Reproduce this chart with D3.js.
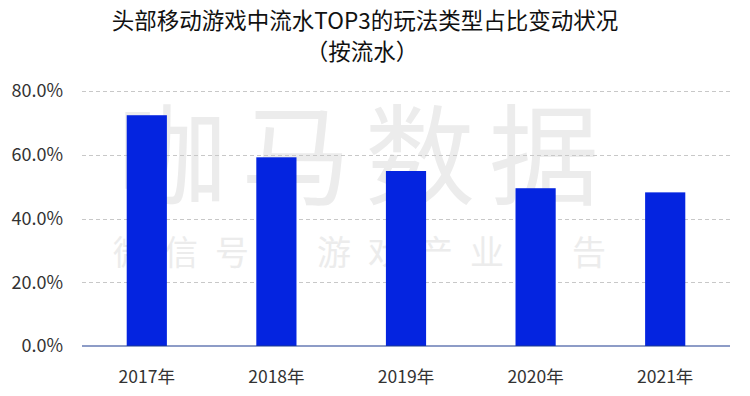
<!DOCTYPE html>
<html>
<head>
<meta charset="utf-8">
<script src="https://cdn.jsdelivr.net/npm/d3@7"></script>
<style>
  body { margin: 0; background: #fff; }
  svg { font-family: "Noto Sans CJK SC", "Noto Sans", sans-serif; }
  .grid line { stroke: #c8c8c8; stroke-dasharray: 4,3; }
  .tick-label { fill: #333; }
</style>
</head>
<body>
<div id="chart"></div>
<script>
// values
const years = ["2017年", "2018年", "2019年", "2020年", "2021年"];
const shares = [72.4, 59.2, 54.9, 49.5, 48.2];
const yTicks = [0, 20, 40, 60, 80];
const titleLines = ["头部移动游戏中流水TOP3的玩法类型占比变动状况", "（按流水）"];

const width = 750, height = 396;
const margin = { top: 91, right: 20, bottom: 50, left: 82 };

const svg = d3.select("#chart").append("svg")
    .attr("width", width)
    .attr("height", height);

const x = d3.scaleBand()
    .domain(years)
    .range([margin.left, width - margin.right])
    .paddingInner(0.69)
    .paddingOuter(0.345);

const y = d3.scaleLinear()
    .domain([0, 80])
    .range([height - margin.bottom, margin.top]);

// --- watermark (behind the bars) ---
const wm = svg.append("g").attr("fill", "#ececec");
wm.append("text")
    .attr("x", 365)
    .attr("y", 158)
    .attr("dy", "0.35em")
    .attr("text-anchor", "middle")
    .attr("font-size", 110)
    .attr("letter-spacing", 14)
    .text("咖马数据");
wm.append("text")
    .attr("x", 368)
    .attr("y", 253)
    .attr("dy", "0.35em")
    .attr("text-anchor", "middle")
    .attr("font-size", 34)
    .attr("letter-spacing", 17)
    .text("微信号：游戏产业报告");

// --- gridlines ---
svg.append("g")
    .attr("class", "grid")
    .selectAll("line")
    .data(yTicks.filter(d => d > 0))
    .join("line")
    .attr("x1", margin.left)
    .attr("x2", width - margin.right)
    .attr("y1", d => Math.round(y(d)) + 0.5)
    .attr("y2", d => Math.round(y(d)) + 0.5);

// --- y tick labels ---
svg.append("g")
    .selectAll("text")
    .data(yTicks)
    .join("text")
    .attr("class", "tick-label")
    .attr("font-size", 18)
    .attr("x", 63)
    .attr("y", d => y(d))
    .attr("dy", "0.35em")
    .attr("text-anchor", "end")
    .text(d => d.toFixed(1) + "%");

// --- bars ---
svg.append("g")
    .selectAll("rect")
    .data(years.map((d, i) => ({ year: d, value: shares[i] })))
    .join("rect")
    .attr("x", d => x(d.year))
    .attr("y", d => y(d.value))
    .attr("width", x.bandwidth())
    .attr("height", d => y(0) - y(d.value))
    .attr("fill", "#0424e0");

// --- baseline ---
svg.append("line")
    .attr("x1", margin.left)
    .attr("x2", width - margin.right)
    .attr("y1", y(0))
    .attr("y2", y(0))
    .attr("stroke", "#1d3a8f")
    .attr("stroke-width", 1.2);

// --- x labels ---
svg.append("g")
    .selectAll("text")
    .data(years)
    .join("text")
    .attr("class", "tick-label")
    .attr("font-size", 17.5)
    .attr("x", d => x(d) + x.bandwidth() / 2)
    .attr("y", 377)
    .attr("dy", "0.35em")
    .attr("text-anchor", "middle")
    .text(d => d);

// --- title ---
svg.append("g")
    .selectAll("text")
    .data(titleLines)
    .join("text")
    .attr("x", (d, i) => i ? 362 : 365)
    .attr("y", (d, i) => 21 + i * 31)
    .attr("dy", "0.35em")
    .attr("text-anchor", "middle")
    .attr("font-size", 22.5)
    .attr("fill", "#111")
    .text(d => d);
</script>
</body>
</html>
